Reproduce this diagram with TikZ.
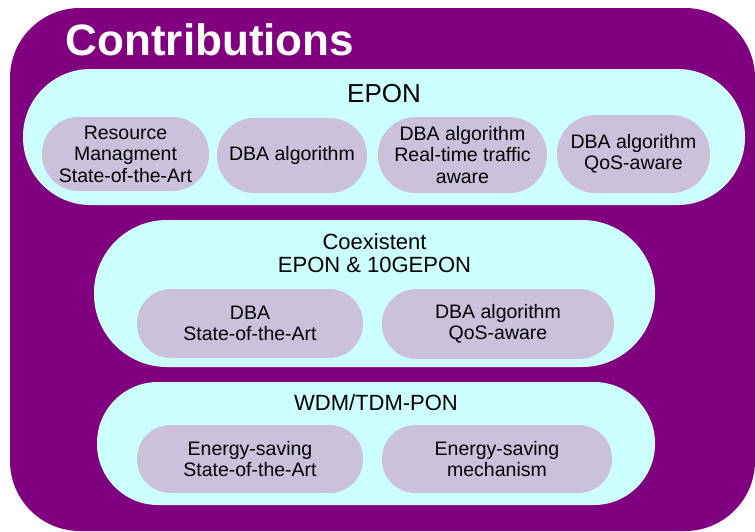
\documentclass[tikz,border=0pt]{standalone}
\usepackage{fontspec}
\setmainfont{Liberation Sans}
\definecolor{outerpurple}{RGB}{128,0,128}
\definecolor{groupcyan}{RGB}{204,255,255}
\definecolor{itemlav}{RGB}{204,193,218}
\begin{document}
\begin{tikzpicture}[x=1pt,y=-1pt,
  box/.style n args={3}{draw=none,inner sep=0pt,outer sep=0pt,
    minimum width=#1,minimum height=#2,rounded corners=#3},
  group/.style={fill=groupcyan},
  item/.style={fill=itemlav,align=center,
    font=\fontsize{19.5}{21.5}\selectfont},
  head/.style={align=center,inner sep=0pt,font=\fontsize{22}{23}\selectfont},
]
\useasboundingbox (0,0) rectangle (755,531);

% outer frame and title
\node[box={745pt}{523pt}{70pt},fill=outerpurple] (frame) at (382.5,269.5) {};
\node[anchor=base,inner sep=0pt,text=white,
  font=\fontsize{44}{48}\selectfont\bfseries] (title) at (210,55) {Contributions};

% EPON group
\node[box={722pt}{136pt}{67.5pt},group] (epon) at (384,137) {};
\node[head,font=\fontsize{26}{28}\selectfont] (eponlbl) at (384,94) {EPON};
\node[box={167pt}{74pt}{36.5pt},item] (e1) at (125.5,154) {Resource\\Managment\\State-of-the-Art};
\node[box={150pt}{75pt}{37pt},item] (e2) at (292,155.5) {DBA algorithm};
\node[box={169pt}{76pt}{37.5pt},item] (e3) at (462.5,155) {DBA algorithm\\Real-time traffic\\aware};
\node[box={153pt}{78pt}{38.5pt},item] (e4) at (633.5,154) {DBA algorithm\\QoS-aware};

% Coexistent EPON & 10GEPON group
\node[box={561pt}{147pt}{73pt},group] (coex) at (374.5,293.5) {};
\node[head] (coexlbl) at (374.5,253.5) {Coexistent\\EPON \& 10GEPON};
\node[box={226pt}{69pt}{34pt},item] (c1) at (250,323.5) {DBA\\State-of-the-Art};
\node[box={232pt}{70pt}{34.5pt},item] (c2) at (498,324) {DBA algorithm\\QoS-aware};

% WDM/TDM-PON group
\node[box={558pt}{123pt}{61pt},group] (wdm) at (376,443.5) {};
\node[head] (wdmlbl) at (376,403) {WDM/TDM-PON};
\node[box={226pt}{68pt}{33.5pt},item] (w1) at (250,459) {Energy-saving\\State-of-the-Art};
\node[box={230pt}{68pt}{33.5pt},item] (w2) at (497,459) {Energy-saving\\mechanism};
\end{tikzpicture}
\end{document}
